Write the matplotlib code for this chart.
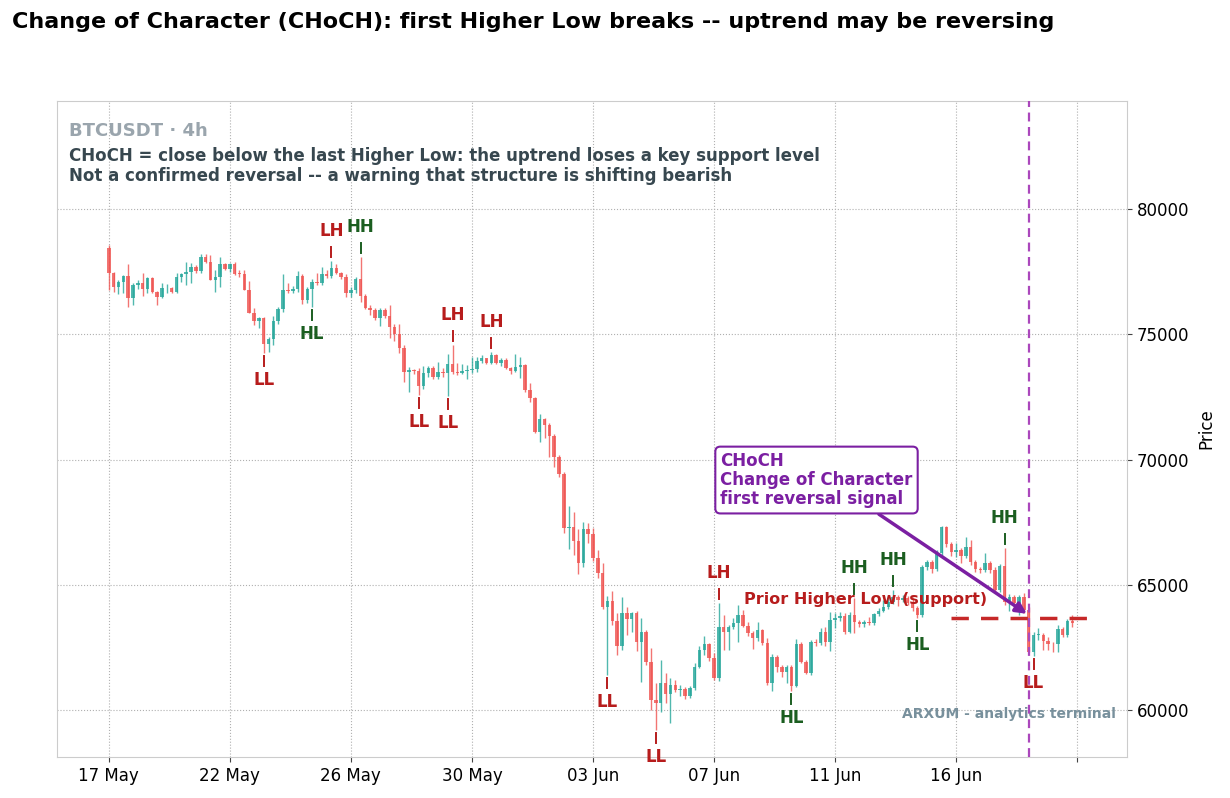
import matplotlib
matplotlib.use("Agg")
import matplotlib.pyplot as plt
import numpy as np

# 4h BTCUSDT candles (index = candle number)
opens = [
    78430, 77460, 76900, 77100, 77330, 76430, 76970, 77030, 76790, 77230,
    76700, 76500, 76830, 76850, 76700, 77300, 77400, 77500, 77670, 77540,
    78100, 77900, 77170, 77300, 77790, 77600, 77800, 77450, 77420, 76770,
    75860, 75540, 75640, 74600, 74800, 75540, 75990, 76770, 76730, 76810,
    77320, 76370, 76790, 77100, 77030, 77390, 77330, 77630, 77430, 77300,
    76660, 76770, 77190, 76530, 76060, 75970, 75630, 75970, 75730, 75300,
    75030, 74460, 73500, 73560, 73530, 72930, 73440, 73640, 73310, 73510,
    73440, 73810, 73500, 73470, 73530, 73560, 73610, 73930, 74040, 73870,
    74170, 73870, 73970, 73640, 73530, 73680, 73770, 72770, 72440, 71110,
    71600, 71380, 70940, 70110, 69420, 67280, 67320, 66760, 65850, 67210,
    67020, 66050, 65450, 64120, 64360, 63560, 62550, 63880, 63620, 63880,
    62730, 63100, 61930, 60400, 60290, 61060, 60640, 61000, 60800, 60830,
    60560, 60890, 61730, 62390, 62630, 62090, 61260, 63330, 63130, 63330,
    63460, 63790, 63350, 63060, 62860, 63190, 62690, 61090, 62130, 61700,
    61530, 61700, 60960, 62630, 61930, 61490, 62730, 62680, 63130, 62730,
    63590, 63660, 63750, 63130, 63790, 63530, 63430, 63530, 63460, 63830,
    63960, 64120, 64320, 64500, 64390, 64470, 64260, 64060, 63790, 65720,
    65920, 65630, 66250, 67320, 66630, 66320, 66390, 66150, 66490, 65920,
    65610, 65590, 65880, 65590, 64790, 65750, 64300, 64520, 64260, 64500,
    63990, 62330, 62990, 63010, 62770, 62630, 62620, 63220, 62990, 63560,
]
highs = [
    78560, 77480, 77170, 77370, 77790, 77060, 77170, 77460, 77300, 77300,
    76720, 77060, 77010, 76900, 77460, 77430, 77870, 77860, 77760, 78200,
    78200, 78160, 77560, 78070, 77860, 77860, 77900, 77570, 77570, 77140,
    76030, 75680, 75680, 74880, 75730, 76070, 77400, 77030, 76930, 77520,
    77400, 76900, 77200, 77460, 77670, 77560, 77940, 77800, 77500, 77400,
    76900, 77300, 78070, 76600, 76170, 76030, 76030, 76030, 76170, 75400,
    75410, 74570, 73700, 73600, 73650, 73730, 73750, 73750, 73900, 73650,
    74200, 74570, 73840, 73810, 73770, 74100, 74100, 74170, 74070, 74310,
    74210, 74040, 74040, 73700, 74200, 74080, 73830, 73070, 72500, 71800,
    71670, 71450, 71000, 70170, 69500, 68140, 67920, 67210, 67520, 67480,
    67250, 66380, 65850, 64550, 64760, 63880, 64520, 64120, 63920, 63950,
    63660, 63190, 62460, 61060, 61990, 61490, 61260, 61200, 61000, 60930,
    60960, 61860, 62550, 62950, 62690, 62260, 64260, 63790, 63400, 63660,
    64190, 63990, 63530, 63150, 63530, 63220, 62860, 62250, 62200, 61800,
    61800, 61800, 62820, 62700, 62000, 62790, 62850, 63260, 63330, 63920,
    63860, 63920, 63860, 63920, 64490, 63600, 63600, 63720, 63880, 64060,
    64390, 64550, 64790, 64580, 64600, 64550, 64520, 64150, 65790, 65990,
    65990, 66390, 67350, 67350, 66720, 66650, 66450, 66920, 66790, 66000,
    65700, 66250, 65950, 65690, 65830, 66460, 64620, 64590, 64600, 64660,
    64100, 63100, 63260, 63060, 62900, 62730, 63390, 63300, 63620, 63790,
]
lows = [
    76770, 76700, 76610, 76630, 76070, 76170, 76790, 76530, 76630, 76630,
    76170, 76450, 76630, 76650, 76650, 77100, 76970, 77060, 77450, 77450,
    77850, 77150, 76700, 76900, 77550, 77500, 77350, 77300, 76760, 75850,
    75370, 75240, 74260, 74300, 74570, 75400, 75900, 76630, 76650, 76700,
    76190, 76250, 76100, 76950, 76950, 77250, 77250, 77400, 77200, 76500,
    76500, 76650, 76300, 75990, 75770, 75560, 75330, 75650, 74840, 74740,
    74240, 73100, 72710, 73400, 72570, 72800, 73300, 73200, 73200, 73300,
    72530, 73400, 73370, 73400, 73200, 73450, 73500, 73850, 73800, 73800,
    73800, 73730, 73600, 73400, 73500, 73240, 72710, 72310, 71070, 70680,
    70840, 70110, 69710, 69310, 67050, 66410, 66190, 65430, 65700, 66650,
    65950, 65250, 64050, 61390, 63400, 62190, 62390, 62990, 63120, 62370,
    61130, 61800, 59990, 59200, 59930, 60270, 59490, 60700, 60560, 60420,
    60460, 60800, 61660, 62200, 61950, 61200, 61150, 62400, 62400, 63220,
    62730, 63300, 62950, 62420, 62750, 62600, 60990, 60770, 61530, 61300,
    61090, 60770, 60900, 61860, 61440, 61400, 62550, 62600, 62550, 62370,
    63260, 63550, 63050, 63060, 63060, 63330, 63330, 63380, 63400, 63750,
    63900, 64050, 64250, 64170, 64300, 64200, 63950, 63660, 63700, 65600,
    65450, 65550, 66100, 66500, 66150, 66120, 65850, 66050, 65790, 65520,
    65450, 65500, 65480, 64660, 64700, 64200, 63960, 64150, 63790, 63860,
    62300, 62150, 62790, 62390, 62390, 62330, 62330, 62900, 62920, 63320,
]
closes = [
    77460, 76900, 77100, 77330, 76430, 76970, 77030, 76790, 77230, 76700,
    76500, 76830, 76850, 76700, 77300, 77400, 77500, 77670, 77540, 78100,
    77900, 77170, 77300, 77790, 77600, 77800, 77400, 77420, 76770, 75860,
    75540, 75640, 74600, 74800, 75540, 75990, 76770, 76730, 76810, 77320,
    76370, 76790, 77100, 77030, 77390, 77330, 77630, 77430, 77300, 76660,
    76770, 77190, 76530, 76060, 75970, 75630, 75970, 75730, 75300, 75030,
    74460, 73500, 73560, 73530, 72930, 73440, 73640, 73310, 73510, 73440,
    73810, 73500, 73470, 73530, 73560, 73610, 73930, 74040, 73870, 74170,
    73870, 73970, 73640, 73530, 73680, 73770, 72770, 72440, 71110, 71600,
    71380, 70940, 70110, 69420, 67280, 67320, 66760, 65850, 67210, 67020,
    66050, 65450, 64120, 64360, 63560, 62550, 63880, 63620, 63880, 62730,
    63100, 61930, 60400, 60290, 61060, 60640, 61000, 60800, 60830, 60560,
    60890, 61730, 62390, 62630, 62090, 61260, 63330, 63130, 63330, 63460,
    63790, 63350, 63060, 62860, 63190, 62690, 61090, 62130, 61700, 61530,
    61700, 60960, 62630, 61930, 61490, 62730, 62680, 63130, 62730, 63590,
    63660, 63750, 63130, 63790, 63530, 63430, 63530, 63460, 63830, 63960,
    64120, 64320, 64500, 64390, 64470, 64260, 64060, 63790, 65720, 65920,
    65630, 66250, 67320, 66630, 66320, 66390, 66150, 66490, 65920, 65610,
    65590, 65880, 65590, 64790, 65750, 64300, 64520, 64260, 64500, 63990,
    62330, 62990, 63010, 62770, 62630, 62620, 63220, 62990, 63560, 63460,
]

# swing points: (candle index, label)
swing_idx = [32, 42, 46, 52, 64, 70, 71, 79, 103, 113, 126, 141, 154, 162, 167, 185, 191]
swing_lbl = ["LL", "HL", "LH", "HH", "LL", "LL", "LH", "LH", "LL", "LL",
             "LH", "HL", "HH", "HH", "HL", "HH", "LL"]

tick_pos = [0, 25, 50, 75, 100, 125, 150, 175, 200]
tick_lbl = ["17 May", "22 May", "26 May", "30 May", "03 Jun", "07 Jun", "11 Jun", "16 Jun", ""]

support_level = 63680      # low of the last Higher Low (candle 167)
choch_idx = 190

UP = "#26a69a"
DOWN = "#ef5350"
BEAR_TXT = "#b71c1c"
BULL_TXT = "#1b5e20"
PURPLE = "#7b1fa2"

o = np.array(opens, float)
h = np.array(highs, float)
l = np.array(lows, float)
c = np.array(closes, float)
x = np.arange(len(c))
up = c >= o

fig = plt.figure(figsize=(12.3, 7.98), dpi=100)
ax = fig.add_axes([0.0463, 0.0514, 0.870, 0.822])

ax.grid(True, linestyle=":", color="#b0b0b0", linewidth=0.8, zorder=0)
ax.set_axisbelow(True)

cols = np.where(up, UP, DOWN)
ax.vlines(x, l, h, colors=cols, linewidth=1.0, alpha=0.8, zorder=2)
body_lo = np.minimum(o, c)
body_h = np.maximum(np.abs(c - o), 25)
ax.bar(x, body_h, bottom=body_lo, width=0.72, color=cols, alpha=0.8,
       linewidth=0, zorder=3)

# swing labels
px = 39.92  # price units per pixel
for i, lab in zip(swing_idx, swing_lbl):
    col = BULL_TXT if lab in ("HH", "HL") else BEAR_TXT
    if lab in ("HH", "LH"):
        base = h[i]
        ax.plot([i, i], [base + 4 * px, base + 14 * px], color=col, lw=1.4, zorder=4)
        ax.text(i, base + 30 * px, lab, color=col, fontsize=12, fontweight="bold",
                ha="center", va="center", zorder=5)
    else:
        base = l[i]
        ax.plot([i, i], [base - 3 * px, base - 13 * px], color=col, lw=1.4, zorder=4)
        ax.text(i, base - 27 * px, lab, color=col, fontsize=12, fontweight="bold",
                ha="center", va="center", zorder=5)

# prior higher low / support
ax.plot([174, 203], [support_level, support_level], color="#c62828", lw=2.5,
        linestyle=(0, (5, 3.5)), zorder=4)
ax.text(181.5, support_level + 18 * px, "Prior Higher Low (support)", color=BEAR_TXT,
        fontsize=11.5, fontweight="bold", ha="right", va="center", zorder=5)

# CHoCH marker
ax.axvline(choch_idx, color="#ab47bc", lw=1.6, linestyle=(0, (4, 2.5)), zorder=4)
ax.annotate("CHoCH\nChange of Character\nfirst reversal signal",
            xy=(189.6, support_level + 4 * px), xytext=(126.3, 69180),
            fontsize=12, fontweight="bold", color=PURPLE, ha="left", va="center",
            linespacing=1.1,
            bbox=dict(boxstyle="round,pad=0.3", facecolor="white", edgecolor=PURPLE, lw=1.5),
            arrowprops=dict(arrowstyle="-|>", color=PURPLE, lw=2.5, mutation_scale=16,
                            relpos=(0.78, 0.0), shrinkA=0, shrinkB=0),
            zorder=6)

ax.text(0.011, 0.954, "BTCUSDT · 4h", transform=ax.transAxes, fontsize=13,
        fontweight="bold", color="#9aa5ad", ha="left", va="center")
ax.text(0.011, 0.916, "CHoCH = close below the last Higher Low: the uptrend loses a key support level",
        transform=ax.transAxes, fontsize=12, fontweight="bold", color="#37474f",
        ha="left", va="center")
ax.text(0.011, 0.885, "Not a confirmed reversal -- a warning that structure is shifting bearish",
        transform=ax.transAxes, fontsize=12, fontweight="bold", color="#37474f",
        ha="left", va="center")
ax.text(0.99, 0.065, "ARXUM - analytics terminal", transform=ax.transAxes, fontsize=10,
        fontweight="bold", color="#78909c", ha="right", va="center")

ax.set_xlim(-10.7, 210.3)
ax.set_ylim(58124, 84311)
ax.set_xticks(tick_pos)
ax.set_xticklabels(tick_lbl, fontsize=12)
ax.set_yticks([60000, 65000, 70000, 75000, 80000])
ax.yaxis.tick_right()
ax.yaxis.set_label_position("right")
ax.tick_params(axis="both", labelsize=12, color="#444444")
ax.set_ylabel("Price", fontsize=12, labelpad=6)
for s in ax.spines.values():
    s.set_color("#cccccc")

fig.text(0.0098, 0.973, "Change of Character (CHoCH): first Higher Low breaks -- uptrend may be reversing",
         fontsize=16, fontweight="bold", ha="left", va="center")

fig.savefig("out.png", dpi=100)
